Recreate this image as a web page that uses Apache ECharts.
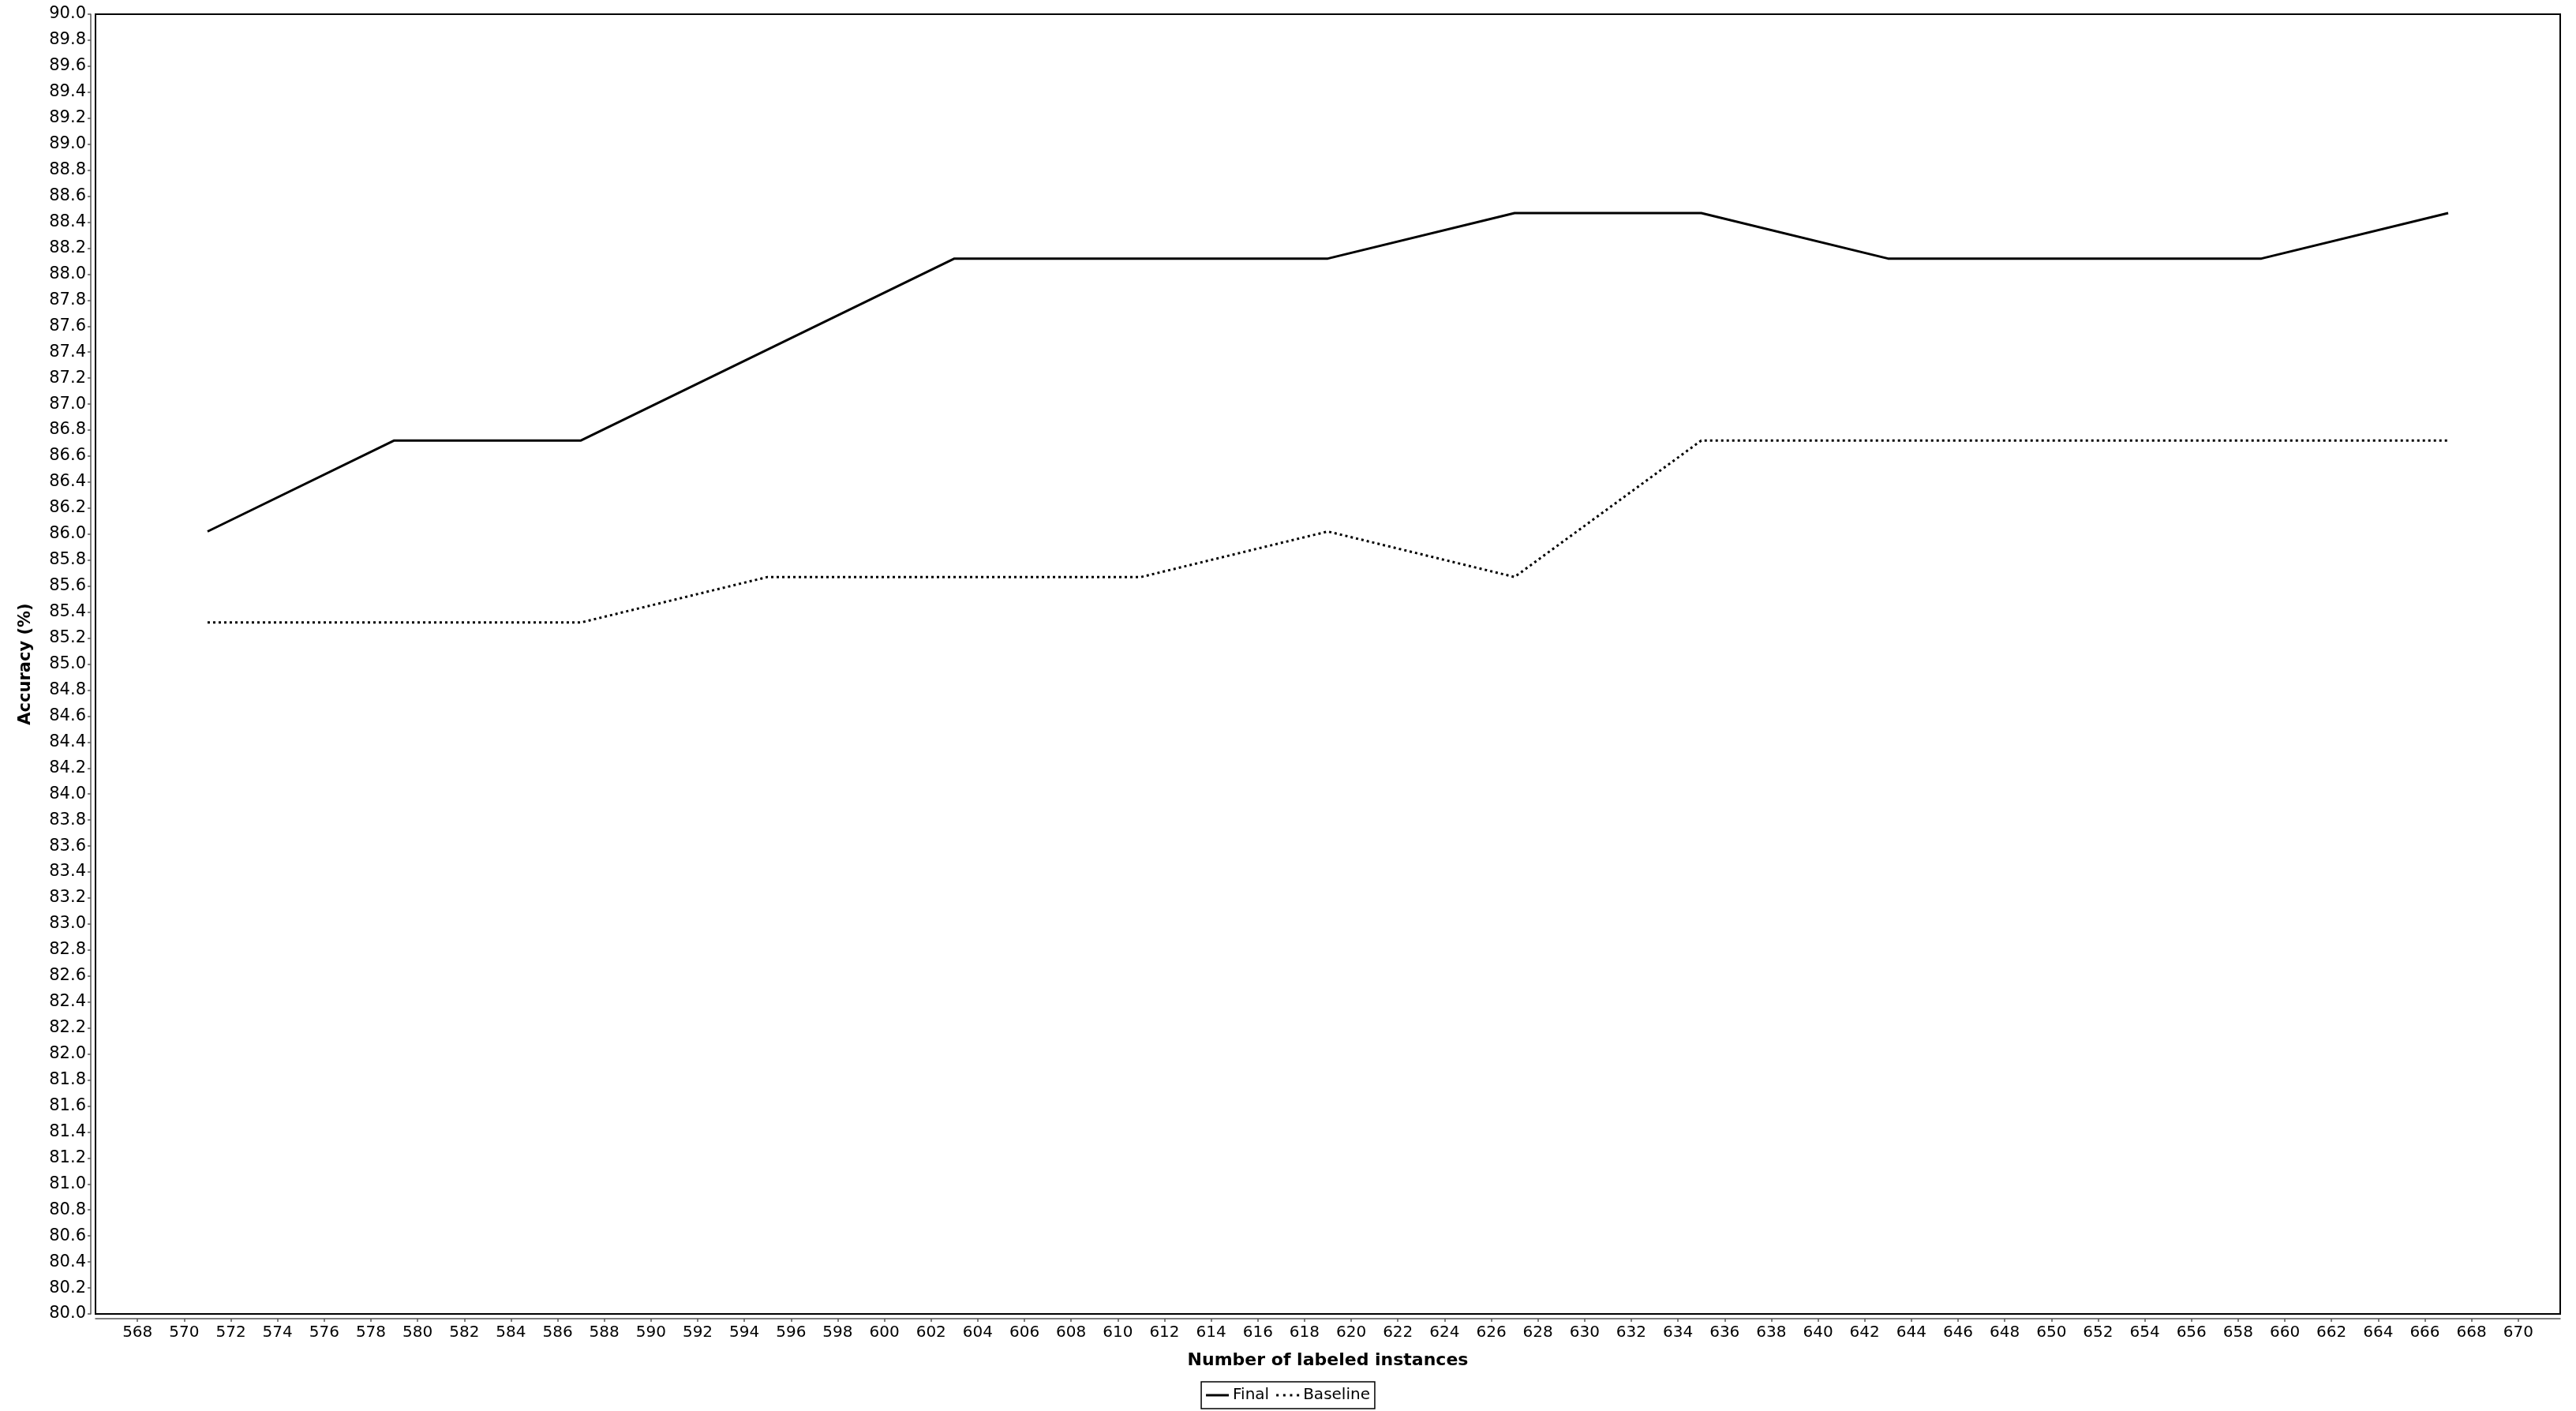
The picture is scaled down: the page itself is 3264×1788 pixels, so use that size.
<!DOCTYPE html>
<html>
<head>
<meta charset="utf-8">
<script src="https://cdn.jsdelivr.net/npm/echarts@6/dist/echarts.min.js"></script>
<style>
html,body{margin:0;padding:0;background:#fff;}
#chart{width:3264px;height:1788px;}
</style>
</head>
<body>
<div id="chart"></div>
<script>
// Data
var instances = [571, 579, 587, 595, 603, 611, 619, 627, 635, 643, 651, 659, 667];
var finalAcc = [86.02, 86.72, 86.72, 87.42, 88.12, 88.12, 88.12, 88.47, 88.47, 88.12, 88.12, 88.12, 88.47];
var baselineAcc = [85.32, 85.32, 85.32, 85.67, 85.67, 85.67, 86.02, 85.67, 86.72, 86.72, 86.72, 86.72, 86.72];
var xTicks = [568, 570, 572, 574, 576, 578, 580, 582, 584, 586, 588, 590, 592, 594, 596, 598, 600,
  602, 604, 606, 608, 610, 612, 614, 616, 618, 620, 622, 624, 626, 628, 630, 632, 634, 636, 638,
  640, 642, 644, 646, 648, 650, 652, 654, 656, 658, 660, 662, 664, 666, 668, 670];
var seriesNames = ['Final', 'Baseline'];

function pairs(xs, ys) {
  var out = [];
  for (var i = 0; i < xs.length; i++) out.push([xs[i], ys[i]]);
  return out;
}

var chart = echarts.init(document.getElementById('chart'), null, {renderer: 'canvas'});
var font = 'DejaVu Sans';
chart.setOption({
  animation: false,
  backgroundColor: '#ffffff',
  grid: {
    left: 121, right: 20, top: 18, bottom: 123,
    show: true, borderColor: '#000', borderWidth: 2, backgroundColor: 'transparent'
  },
  legend: {
    data: [
      {name: seriesNames[0], icon: 'rect'},
      {name: seriesNames[1], icon: 'path://M0,0h3v3h-3zM8.7,0h3v3h-3zM17.3,0h3v3h-3zM26,0h3v3h-3z'}
    ],
    left: 'center',
    bottom: 3,
    borderColor: '#000',
    borderWidth: 1.5,
    padding: [7, 6],
    itemGap: 9,
    itemWidth: 29,
    itemHeight: 3,
    itemStyle: {color: '#000', borderWidth: 0},
    textStyle: {fontFamily: font, fontSize: 20, color: '#000'}
  },
  xAxis: {
    type: 'value',
    min: 566.2,
    max: 671.8,
    offset: 6,
    name: 'Number of labeled instances',
    nameLocation: 'middle',
    nameGap: 42,
    nameTextStyle: {fontFamily: font, fontSize: 22, fontWeight: 'bold', color: '#000'},
    axisLine: {show: true, onZero: false, lineStyle: {color: '#555', width: 1.5}},
    axisTick: {show: true, length: 4, lineStyle: {color: '#555', width: 1.5}, customValues: xTicks},
    axisLabel: {fontFamily: font, fontSize: 20, color: '#000', margin: 8, customValues: xTicks,
      formatter: function (v) { return String(Math.round(v)); }},
    splitLine: {show: false}
  },
  yAxis: {
    type: 'value',
    min: 80,
    max: 90,
    interval: 0.2,
    offset: 6,
    name: 'Accuracy (%)',
    nameLocation: 'middle',
    nameGap: 72,
    nameTextStyle: {fontFamily: font, fontSize: 21, fontWeight: 'bold', color: '#000'},
    axisLine: {show: true, lineStyle: {color: '#555', width: 1.5}},
    axisTick: {show: true, length: 4, lineStyle: {color: '#555', width: 1.5}},
    axisLabel: {fontFamily: font, fontSize: 21, color: '#000', margin: 6,
      formatter: function (v) { return v.toFixed(1); }},
    splitLine: {show: false}
  },
  series: [
    {
      name: seriesNames[0],
      type: 'line',
      data: pairs(instances, finalAcc),
      symbol: 'none',
      color: '#000',
      lineStyle: {color: '#000', width: 3, type: 'solid'}
    },
    {
      name: seriesNames[1],
      type: 'line',
      data: pairs(instances, baselineAcc),
      symbol: 'none',
      color: '#000',
      lineStyle: {color: '#000', width: 3, type: [3, 4]}
    }
  ]
});
</script>
</body>
</html>
